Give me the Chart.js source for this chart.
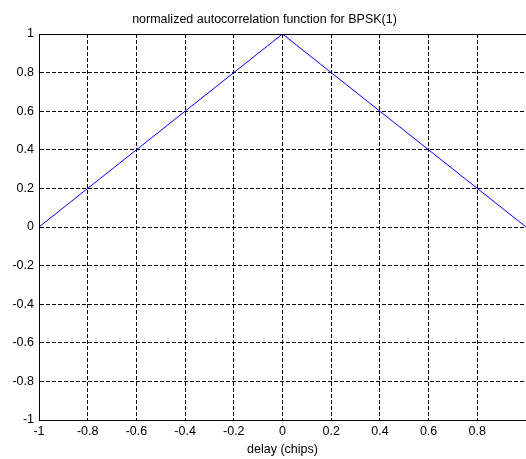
<!DOCTYPE html>
<html>
<head>
<meta charset="utf-8">
<script src="https://cdn.jsdelivr.net/npm/chart.js@4"></script>
<style>
  html, body { margin: 0; padding: 0; background: #fff; overflow: hidden; }
  #wrap { width: 526px; height: 459px; overflow: hidden; }
</style>
</head>
<body>
<div id="wrap"><canvas id="acf" width="530" height="459"></canvas></div>
<script>
// --- Data ---
const delay = [-1, 0, 1];
const acf = [0, 1, 0];
const xTicks = [-1, -0.8, -0.6, -0.4, -0.2, 0, 0.2, 0.4, 0.6, 0.8, 1];
const xTickLabels = ["-1", "-0.8", "-0.6", "-0.4", "-0.2", "0", "0.2", "0.4", "0.6", "0.8", ""];
const yTicks = [-1, -0.8, -0.6, -0.4, -0.2, 0, 0.2, 0.4, 0.6, 0.8, 1];
const yTickLabels = ["-1", "-0.8", "-0.6", "-0.4", "-0.2", "0", "0.2", "0.4", "0.6", "0.8", "1"];

const FONT = "'Liberation Sans', Arial, Helvetica, sans-serif";

// --- frame round the plot (matlab box on) ---
const boxPlugin = {
  id: "box",
  afterDraw(chart) {
    const { ctx, chartArea: a } = chart;
    ctx.save();
    ctx.strokeStyle = "#000";
    ctx.lineWidth = 1;
    ctx.strokeRect(Math.round(a.left) + 0.5, Math.round(a.top) + 0.5,
      Math.round(a.right - a.left), Math.round(a.bottom - a.top));
    ctx.restore();
  },
};

function setTicks(values) {
  return (scale) => {
    scale.ticks = values.map((v) => ({ value: v }));
  };
}

const ctx = document.getElementById("acf").getContext("2d");
new Chart(ctx, {
  type: "scatter",
  data: {
    datasets: [
      {
        data: delay.map((d, i) => ({ x: d, y: acf[i] })),
        showLine: true,
        borderColor: "#0000ff",
        borderWidth: 1,
        pointRadius: 0,
        tension: 0,
      },
    ],
  },
  options: {
    responsive: false,
    animation: false,
    layout: { padding: { left: 0, right: 1, top: 0, bottom: 0 } },
    plugins: {
      legend: { display: false },
      tooltip: { enabled: false },
      title: {
        display: true,
        text: "normalized autocorrelation function for BPSK(1)",
        color: "#000",
        font: { family: FONT, size: 12.5, weight: "normal", lineHeight: 1.2 },
        padding: { top: 12, bottom: 7 },
      },
    },
    scales: {
      x: {
        type: "linear",
        min: -1,
        max: 1,
        afterBuildTicks: setTicks(xTicks),
        afterFit: (s) => { s.height = 39; },
        ticks: {
          autoSkip: false,
          maxRotation: 0,
          padding: 4,
          color: "#000",
          font: { family: FONT, size: 12.5 },
          callback: (v) => xTickLabels[xTicks.indexOf(v)] ?? "",
        },
        grid: { color: "#000", lineWidth: 1, drawTicks: false },
        border: { display: true, color: "#000", dash: [4, 2] },
        title: {
          display: true,
          text: "delay (chips)",
          color: "#000",
          font: { family: FONT, size: 12.5, lineHeight: 1.2 },
          padding: { top: 0, bottom: 2 },
        },
      },
      y: {
        type: "linear",
        min: -1,
        max: 1,
        afterBuildTicks: setTicks(yTicks),
        afterFit: (s) => { s.width = 39; },
        ticks: {
          autoSkip: false,
          padding: 5,
          color: "#000",
          font: { family: FONT, size: 12.5 },
          callback: (v) => yTickLabels[yTicks.indexOf(v)] ?? "",
        },
        grid: { color: "#000", lineWidth: 1, drawTicks: false },
        border: { display: true, color: "#000", dash: [4, 2] },
      },
    },
  },
  plugins: [boxPlugin],
});
</script>
</body>
</html>
